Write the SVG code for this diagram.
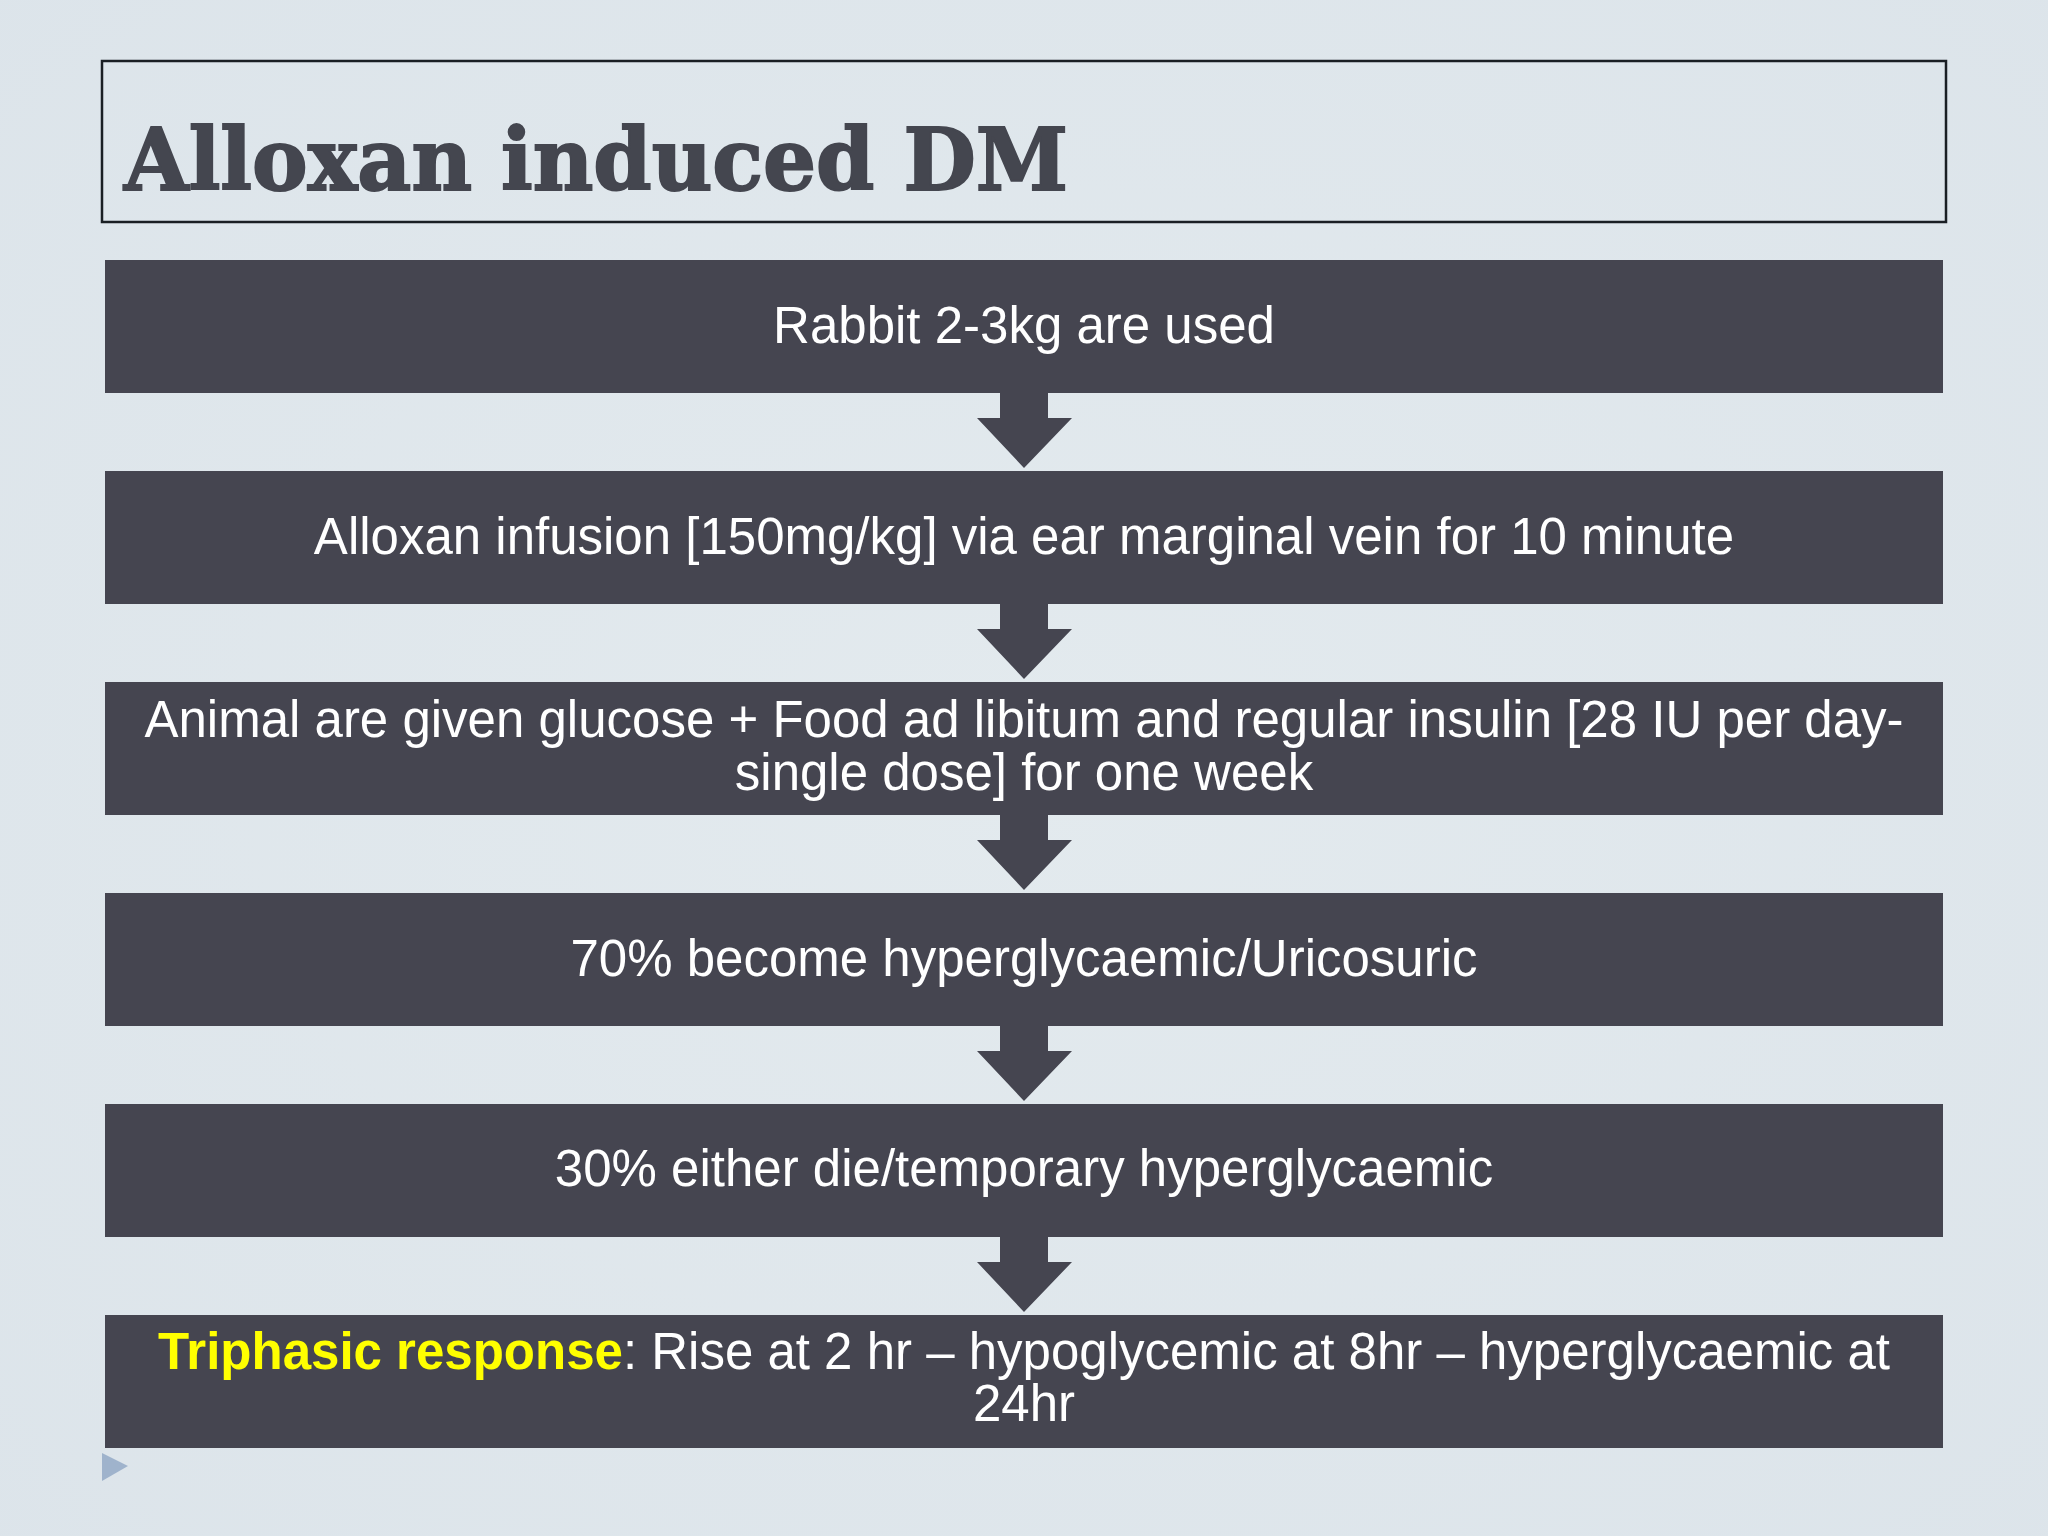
<svg xmlns="http://www.w3.org/2000/svg" width="2048" height="1536" viewBox="0 0 2048 1536">
<defs>
<radialGradient id="bg" cx="50%" cy="50%" r="75%">
<stop offset="0" stop-color="#e3eaee"/>
<stop offset="1" stop-color="#dce4ea"/>
</radialGradient>
<path id="arr" d="M1000,0 H1048 V25 H1072 L1024,75 L977,25 H1000 Z"/>
</defs>
<style>
.box{fill:#454550;}
.t{font-family:"Liberation Sans",Arial,sans-serif;font-size:51px;fill:#ffffff;text-anchor:middle;}
.y{fill:#ffff00;font-weight:bold;}
.arrow{fill:#454550;}
</style>
<rect width="2048" height="1536" fill="url(#bg)"/>
<g id="title">
<rect x="102" y="61" width="1844" height="161" fill="none" stroke="#1a1f24" stroke-width="2.5"/>
<text x="124" y="190" font-family="'DejaVu Serif','Liberation Serif',serif" font-weight="bold" font-size="86" fill="#44464f" stroke="#44464f" stroke-width="2" textLength="944" lengthAdjust="spacingAndGlyphs">Alloxan induced DM</text>
</g>
<g id="connectors">
<use href="#arr" class="arrow" transform="translate(0,393)"/>
<use href="#arr" class="arrow" transform="translate(0,604)"/>
<use href="#arr" class="arrow" transform="translate(0,815)"/>
<use href="#arr" class="arrow" transform="translate(0,1026)"/>
<use href="#arr" class="arrow" transform="translate(0,1237)"/>
</g>
<g id="n1">
<rect class="box" x="105" y="260" width="1838" height="133"/>
<text class="t" x="1024" y="343">Rabbit 2-3kg are used</text>
</g>
<g id="n2">
<rect class="box" x="105" y="471" width="1838" height="133"/>
<text class="t" x="1024" y="554">Alloxan infusion [150mg/kg] via ear marginal vein for 10 minute</text>
</g>
<g id="n3">
<rect class="box" x="105" y="682" width="1838" height="133"/>
<text class="t" x="1024" y="737">Animal are given glucose + Food ad libitum and regular insulin [28 IU per day-</text>
<text class="t" x="1024" y="790">single dose] for one week</text>
</g>
<g id="n4">
<rect class="box" x="105" y="893" width="1838" height="133"/>
<text class="t" x="1024" y="976">70% become hyperglycaemic/Uricosuric</text>
</g>
<g id="n5">
<rect class="box" x="105" y="1104" width="1838" height="133"/>
<text class="t" x="1024" y="1186">30% either die/temporary hyperglycaemic</text>
</g>
<g id="n6">
<rect class="box" x="105" y="1315" width="1838" height="133"/>
<text class="t" x="1024" y="1369"><tspan class="y">Triphasic response</tspan>: Rise at 2 hr – hypoglycemic at 8hr – hyperglycaemic at</text>
<text class="t" x="1024" y="1421">24hr</text>
</g>
<polygon points="102,1453 128,1466 102,1481" fill="#9fb3cc"/>
</svg>
